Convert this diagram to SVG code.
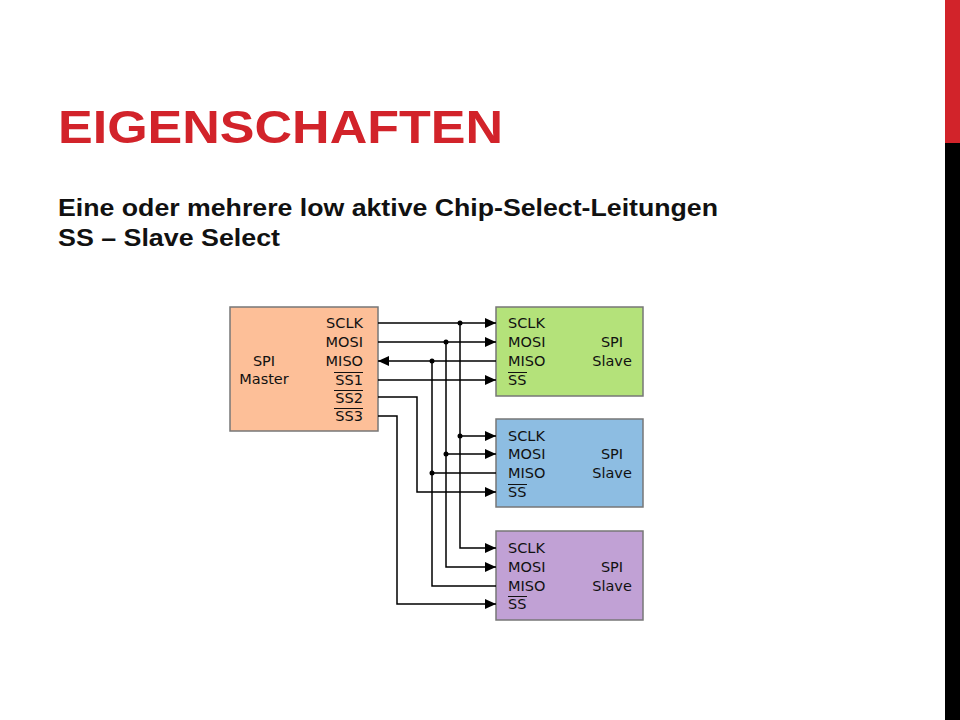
<svg xmlns="http://www.w3.org/2000/svg" width="960" height="720" viewBox="0 0 960 720">
<defs>
<marker id="a" markerWidth="12" markerHeight="10" refX="11" refY="5" orient="auto" markerUnits="userSpaceOnUse"><path d="M0,0 L11,5 L0,10 Z" fill="#000"/></marker>
<style>
.l{fill:none;stroke:#000;stroke-width:1.5}
.t{font-family:"DejaVu Sans",sans-serif;font-size:14.5px;fill:#111}
.b{stroke:#777;stroke-width:1.5}
</style>
</defs>
<rect width="960" height="720" fill="#fff"/>
<rect x="945" y="0" width="15" height="143" fill="#d2232a"/>
<rect x="945" y="143" width="15" height="577" fill="#000"/>
<text x="58" y="143" font-family="Liberation Sans,sans-serif" font-weight="bold" font-size="46" fill="#d2232a" textLength="445" lengthAdjust="spacingAndGlyphs">EIGENSCHAFTEN</text>
<text x="58" y="216" font-family="Liberation Sans,sans-serif" font-weight="bold" font-size="24" fill="#111" textLength="660" lengthAdjust="spacingAndGlyphs">Eine oder mehrere low aktive Chip-Select-Leitungen</text>
<text x="58" y="246" font-family="Liberation Sans,sans-serif" font-weight="bold" font-size="24" fill="#111" textLength="222" lengthAdjust="spacingAndGlyphs">SS – Slave Select</text>
<g id="master">
<rect x="230" y="307" width="148" height="124" fill="#fdbf98" class="b"/>
<text class="t" x="264" y="366" text-anchor="middle">SPI</text>
<text class="t" x="264" y="384" text-anchor="middle">Master</text>
<g text-anchor="end"><text class="t" x="363" y="328">SCLK</text><text class="t" x="363" y="347">MOSI</text><text class="t" x="363" y="366">MISO</text><text class="t" x="363" y="385">SS1</text><text class="t" x="363" y="403">SS2</text><text class="t" x="363" y="421">SS3</text></g>
<path d="M334,372.5h29M334,390.5h29M334,408.5h29" stroke="#111" stroke-width="1"/>
</g>
<g id="slave1">
<rect x="496" y="307" width="147" height="89" fill="#b4e27a" class="b"/>
<text class="t" x="508" y="328">SCLK</text><text class="t" x="508" y="347">MOSI</text><text class="t" x="508" y="366">MISO</text><text class="t" x="508" y="385">SS</text>
<path d="M508,372.5h19" stroke="#111" stroke-width="1"/>
<text class="t" x="612" y="347" text-anchor="middle">SPI</text><text class="t" x="612" y="366" text-anchor="middle">Slave</text>
</g>
<g id="slave2">
<rect x="496" y="419" width="147" height="88" fill="#8dbde2" class="b"/>
<text class="t" x="508" y="441">SCLK</text><text class="t" x="508" y="459">MOSI</text><text class="t" x="508" y="478">MISO</text><text class="t" x="508" y="497">SS</text>
<path d="M508,484.5h19" stroke="#111" stroke-width="1"/>
<text class="t" x="612" y="459" text-anchor="middle">SPI</text><text class="t" x="612" y="478" text-anchor="middle">Slave</text>
</g>
<g id="slave3">
<rect x="496" y="531" width="147" height="89" fill="#c1a1d5" class="b"/>
<text class="t" x="508" y="553">SCLK</text><text class="t" x="508" y="572">MOSI</text><text class="t" x="508" y="591">MISO</text><text class="t" x="508" y="609">SS</text>
<path d="M508,596.5h19" stroke="#111" stroke-width="1"/>
<text class="t" x="612" y="572" text-anchor="middle">SPI</text><text class="t" x="612" y="591" text-anchor="middle">Slave</text>
</g>
<g id="connectors">
<path class="l" marker-end="url(#a)" d="M378,323H496"/>
<path class="l" marker-end="url(#a)" d="M378,342H496"/>
<path class="l" marker-end="url(#a)" d="M496,361H378"/>
<path class="l" marker-end="url(#a)" d="M378,380H496"/>
<path class="l" marker-end="url(#a)" d="M378,397H417V492H496"/>
<path class="l" marker-end="url(#a)" d="M378,416H397V604H496"/>
<path class="l" marker-end="url(#a)" d="M460,323V548H496"/>
<path class="l" marker-end="url(#a)" d="M446,342V567H496"/>
<path class="l" d="M432,361V586H496"/>
<path class="l" marker-end="url(#a)" d="M460,436H496"/>
<path class="l" marker-end="url(#a)" d="M446,454H496"/>
<path class="l" d="M432,473H496"/>
<g fill="#000"><circle cx="460" cy="323" r="2.5"/><circle cx="446" cy="342" r="2.5"/><circle cx="432" cy="361" r="2.5"/><circle cx="460" cy="436" r="2.5"/><circle cx="446" cy="454" r="2.5"/><circle cx="432" cy="473" r="2.5"/></g>
</g>
</svg>
